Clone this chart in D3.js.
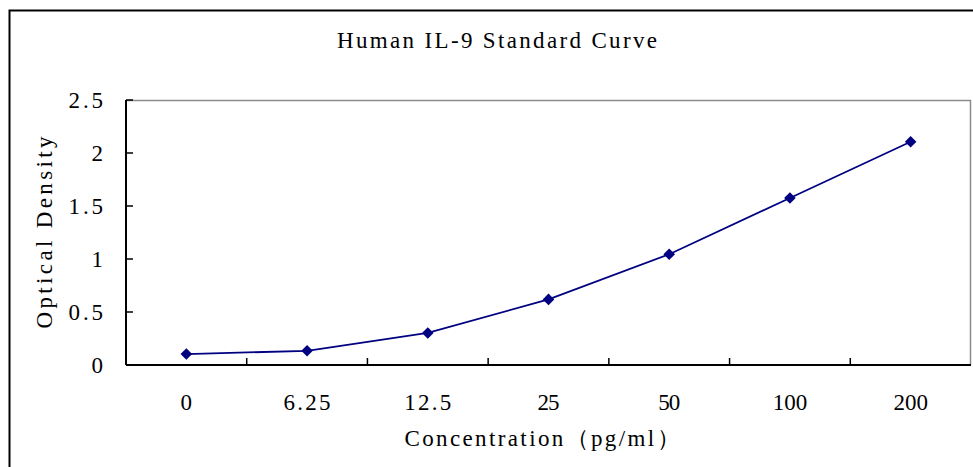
<!DOCTYPE html>
<html><head><meta charset="utf-8">
<script src="https://cdn.jsdelivr.net/npm/d3@7"></script>
<style>
html,body{margin:0;padding:0;background:#fff;}
svg{display:block;}
text{font-family:"Liberation Serif","DejaVu Serif",serif;fill:#000;}
</style></head>
<body>
<script>
const categories = ["0","6.25","12.5","25","50","100","200"];
const odValues = [0.103, 0.134, 0.302, 0.619, 1.045, 1.575, 2.106];
const yTicks = [0, 0.5, 1, 1.5, 2, 2.5];
const yTickLabels = ["0","0.5","1","1.5","2","2.5"];
const title = "Human IL-9 Standard Curve";
const xTitle = "Concentration（pg/ml）";
const yTitle = "Optical Density";

const W = 973, H = 467;
const m = {left:126, right:2, top:100, bottom:102};
const CH = 12.5; // half-width character advance
const FS = 23;
const svg = d3.select("body").append("svg").attr("width", W).attr("height", H);

function fit(sel, n) {
  if (n > 1) sel.attr("textLength", n * CH - 3).attr("lengthAdjust", "spacing");
}

// outer chart border
svg.append("rect").attr("x", 9.5).attr("y", 10.5).attr("width", W + 20).attr("height", H + 20)
  .attr("fill", "none").attr("stroke", "#000").attr("stroke-width", 2);

const x = d3.scaleBand().domain(categories).range([m.left, W - m.right]);
const y = d3.scaleLinear().domain([0, 2.5]).range([H - m.bottom, m.top]);

// plot area: gray top and right
svg.append("path")
  .attr("d", `M${m.left},${m.top + 0.5}H${W - m.right - 0.5}V${H - m.bottom}`)
  .attr("fill", "none").attr("stroke", "#8c8c8c").attr("stroke-width", 1.5);

// Y axis
const yAxis = svg.append("g").attr("transform", `translate(${m.left},0)`);
yAxis.append("line").attr("x1", 0).attr("x2", 0).attr("y1", y(2.5)).attr("y2", y(0))
  .attr("stroke", "#000").attr("stroke-width", 2);
yAxis.selectAll("line.tick").data(yTicks).enter().append("line").attr("class", "tick")
  .attr("x1", 0).attr("x2", 7).attr("y1", d => y(d)).attr("y2", d => y(d))
  .attr("stroke", "#000").attr("stroke-width", 1.5);
yAxis.selectAll("text").data(yTicks).enter().append("text")
  .attr("x", -23).attr("y", d => y(d)).attr("dy", "0.35em")
  .attr("text-anchor", "end").attr("font-size", FS)
  .text((d, i) => yTickLabels[i])
  .each(function(d, i) { fit(d3.select(this), yTickLabels[i].length); });

// X axis
const xAxis = svg.append("g").attr("transform", `translate(0,${y(0)})`);
xAxis.append("line").attr("x1", m.left).attr("x2", W - m.right).attr("y1", 0).attr("y2", 0)
  .attr("stroke", "#000").attr("stroke-width", 2);
xAxis.selectAll("line.tick").data(categories.slice(1)).enter().append("line").attr("class", "tick")
  .attr("x1", d => x(d)).attr("x2", d => x(d)).attr("y1", 0).attr("y2", -7)
  .attr("stroke", "#000").attr("stroke-width", 1.5);
xAxis.selectAll("text").data(categories).enter().append("text")
  .attr("x", d => x(d) + x.bandwidth() / 2).attr("y", 45)
  .attr("text-anchor", "middle").attr("font-size", FS)
  .text(d => d)
  .each(function(d) { fit(d3.select(this), d.length); });

// titles
svg.append("text").attr("x", 497).attr("y", 48).attr("text-anchor", "middle")
  .attr("font-size", FS).attr("textLength", 320).attr("lengthAdjust", "spacing").text(title);
svg.append("text").attr("x", 542).attr("y", 446).attr("text-anchor", "middle")
  .attr("font-size", FS).attr("textLength", 275).attr("lengthAdjust", "spacing").text(xTitle);
svg.append("text").attr("transform", `translate(52,${(m.top + H - m.bottom) / 2}) rotate(-90)`)
  .attr("text-anchor", "middle").attr("font-size", FS)
  .attr("textLength", 192).attr("lengthAdjust", "spacing").text(yTitle);

// series line
const line = d3.line().x((d, i) => x(categories[i]) + x.bandwidth() / 2).y(d => y(d));
svg.append("path").datum(odValues).attr("d", line)
  .attr("fill", "none").attr("stroke", "#000080").attr("stroke-width", 1.8);

// diamond markers
const sym = d3.symbol().type(d3.symbolDiamond2).size(85);
svg.selectAll("path.pt").data(odValues).enter().append("path").attr("class", "pt")
  .attr("transform", (d, i) => `translate(${x(categories[i]) + x.bandwidth() / 2},${y(d)})`)
  .attr("d", sym).attr("fill", "#000080");
</script>
</body></html>
